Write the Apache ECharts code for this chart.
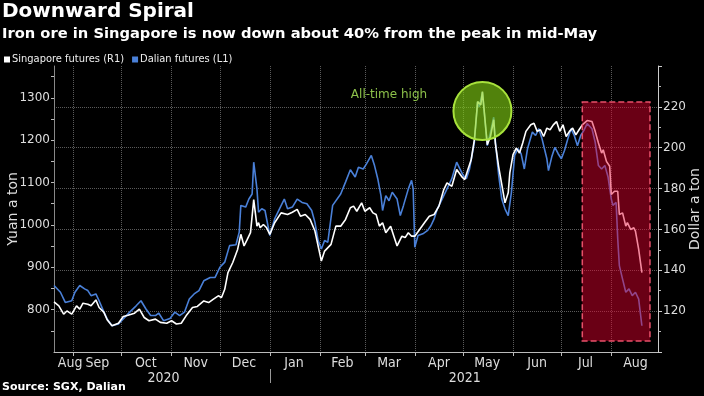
<!DOCTYPE html>
<html>
<head>
<meta charset="utf-8">
<script src="https://cdn.jsdelivr.net/npm/echarts@6/dist/echarts.min.js"></script>
<style>
  html, body { margin: 0; padding: 0; background: #000; }
  #chart { width: 704px; height: 396px; }
</style>
</head>
<body>
<div id="chart"></div>
<script>
// Dalian futures, yuan a ton (left axis)
const dalianDates = [
  '2020-08-20','2020-08-24','2020-08-27','2020-08-31','2020-09-02','2020-09-05','2020-09-08','2020-09-10',
  '2020-09-12','2020-09-15','2020-09-17','2020-09-20','2020-09-22','2020-09-25','2020-09-29','2020-10-02',
  '2020-10-06','2020-10-10','2020-10-13','2020-10-16','2020-10-19','2020-10-22','2020-10-24','2020-10-27',
  '2020-10-31','2020-11-03','2020-11-06','2020-11-09','2020-11-12','2020-11-15','2020-11-18','2020-11-21',
  '2020-11-25','2020-11-28','2020-12-01','2020-12-04','2020-12-07','2020-12-11','2020-12-13','2020-12-14',
  '2020-12-17','2020-12-19','2020-12-21','2020-12-22','2020-12-24','2020-12-25','2020-12-27','2020-12-29',
  '2021-01-01','2021-01-04','2021-01-07','2021-01-10','2021-01-12','2021-01-15','2021-01-18','2021-01-21',
  '2021-01-24','2021-01-27','2021-01-29','2021-01-31','2021-02-02','2021-02-04','2021-02-06','2021-02-09',
  '2021-02-14','2021-02-17','2021-02-20','2021-02-23','2021-02-25','2021-02-28','2021-03-02','2021-03-05',
  '2021-03-07','2021-03-09','2021-03-11','2021-03-12','2021-03-14','2021-03-16','2021-03-18','2021-03-21',
  '2021-03-23','2021-03-25','2021-03-28','2021-03-30','2021-03-31','2021-04-01','2021-04-03','2021-04-06',
  '2021-04-09','2021-04-11','2021-04-13','2021-04-15','2021-04-17','2021-04-21','2021-04-24','2021-04-27',
  '2021-04-29','2021-05-01','2021-05-03','2021-05-05','2021-05-08','2021-05-10','2021-05-11','2021-05-13',
  '2021-05-16','2021-05-18','2021-05-20','2021-05-21','2021-05-23','2021-05-25','2021-05-27','2021-05-29',
  '2021-05-31','2021-06-02','2021-06-04','2021-06-06','2021-06-08','2021-06-10','2021-06-13','2021-06-15',
  '2021-06-17','2021-06-19','2021-06-22','2021-06-23','2021-06-25','2021-06-27','2021-06-29','2021-07-01',
  '2021-07-03','2021-07-05','2021-07-07','2021-07-09','2021-07-11','2021-07-13','2021-07-15','2021-07-17',
  '2021-07-20','2021-07-22','2021-07-24','2021-07-26','2021-07-28','2021-07-30','2021-08-01','2021-08-02',
  '2021-08-04','2021-08-05','2021-08-06','2021-08-08','2021-08-10','2021-08-12','2021-08-14','2021-08-16',
  '2021-08-18','2021-08-20'
];
const dalianYuan = [
  857, 841, 817, 821, 841, 857, 849, 845,
  833, 837, 821, 794, 778, 762, 766, 778,
  794, 809, 821, 802, 786, 786, 792, 774,
  779, 794, 786, 794, 825, 837, 845, 868,
  876, 876, 900, 912, 951, 953, 983, 1046,
  1042, 1061, 1073, 1148, 1085, 1030, 1038, 1034,
  975, 1014, 1038, 1061, 1038, 1042, 1061, 1053,
  1050, 1034, 1006, 963, 943, 963, 959, 1046,
  1073, 1101, 1130, 1113, 1136, 1132, 1144, 1164,
  1140, 1109, 1069, 1034, 1069, 1057, 1077, 1061,
  1022, 1046, 1085, 1105, 1085, 947, 975, 979,
  987, 998, 1014, 1038, 1053, 1085, 1109, 1148,
  1132, 1117, 1109, 1132, 1195, 1290, 1278, 1313,
  1187, 1219, 1254, 1199, 1120, 1061, 1038, 1022,
  1077, 1164, 1180, 1168, 1132, 1180, 1219, 1211,
  1227, 1203, 1156, 1128, 1160, 1183, 1168, 1156,
  1176, 1203, 1227, 1211, 1187, 1211, 1223, 1239,
  1227, 1195, 1140, 1132, 1140, 1113, 1061, 1046,
  1053, 967, 904, 872, 841, 849, 833, 841,
  825, 762
];

// Singapore futures, dollar a ton (right axis)
const sgxDates = [
  '2020-08-20','2020-08-23','2020-08-26','2020-08-28','2020-08-31','2020-09-03','2020-09-05','2020-09-07',
  '2020-09-10','2020-09-12','2020-09-15','2020-09-17','2020-09-20','2020-09-22','2020-09-25','2020-09-29',
  '2020-10-02','2020-10-05','2020-10-09','2020-10-12','2020-10-15','2020-10-18','2020-10-22','2020-10-25',
  '2020-10-29','2020-11-01','2020-11-04','2020-11-07','2020-11-10','2020-11-14','2020-11-17','2020-11-21',
  '2020-11-24','2020-11-27','2020-11-30','2020-12-02','2020-12-04','2020-12-06','2020-12-09','2020-12-12',
  '2020-12-14','2020-12-16','2020-12-18','2020-12-20','2020-12-22','2020-12-24','2020-12-25','2020-12-26',
  '2020-12-28','2020-12-30','2021-01-01','2021-01-04','2021-01-08','2021-01-12','2021-01-15','2021-01-18',
  '2021-01-20','2021-01-23','2021-01-26','2021-01-29','2021-01-31','2021-02-02','2021-02-04','2021-02-08',
  '2021-02-11','2021-02-14','2021-02-17','2021-02-20','2021-02-22','2021-02-24','2021-02-27','2021-03-01',
  '2021-03-04','2021-03-06','2021-03-08','2021-03-10','2021-03-12','2021-03-14','2021-03-17','2021-03-19',
  '2021-03-21','2021-03-24','2021-03-26','2021-03-28','2021-03-30','2021-04-01','2021-04-04','2021-04-07',
  '2021-04-10','2021-04-13','2021-04-16','2021-04-19','2021-04-21','2021-04-24','2021-04-27','2021-04-30',
  '2021-05-02','2021-05-04','2021-05-06','2021-05-08','2021-05-10','2021-05-12','2021-05-13','2021-05-16',
  '2021-05-18','2021-05-20','2021-05-21','2021-05-23','2021-05-25','2021-05-27','2021-05-29','2021-05-30',
  '2021-06-01','2021-06-03','2021-06-05','2021-06-07','2021-06-09','2021-06-12','2021-06-14','2021-06-16',
  '2021-06-18','2021-06-20','2021-06-22','2021-06-24','2021-06-26','2021-06-28','2021-06-30','2021-07-02',
  '2021-07-04','2021-07-06','2021-07-08','2021-07-10','2021-07-12','2021-07-14','2021-07-17','2021-07-20',
  '2021-07-22','2021-07-24','2021-07-26','2021-07-27','2021-07-29','2021-07-31','2021-08-01','2021-08-03',
  '2021-08-05','2021-08-06','2021-08-08','2021-08-10','2021-08-11','2021-08-13','2021-08-15','2021-08-16',
  '2021-08-18','2021-08-20'
];
const sgxUsd = [
  124.5, 122.6, 118.5, 120.1, 118.5, 122.6, 121.0, 123.9,
  123.4, 122.6, 125.5, 121.8, 119.4, 115.8, 112.8, 114.1,
  117.4, 118.0, 119.0, 121.0, 116.9, 115.3, 116.1, 114.5,
  114.1, 115.3, 113.7, 114.1, 117.7, 121.8, 122.3, 125.0,
  124.2, 125.9, 127.5, 126.7, 130.7, 138.9, 143.8, 150.2,
  157.6, 151.9, 155.1, 158.4, 174.6, 161.6, 163.3, 160.8,
  162.4, 160.8, 157.6, 163.3, 168.1, 167.3, 168.4, 169.8,
  166.5, 167.3, 164.9, 159.2, 151.9, 144.5, 149.4, 152.7,
  161.6, 161.6, 164.9, 170.6, 171.4, 168.9, 173.0, 168.9,
  170.6, 168.1, 167.3, 161.6, 163.3, 158.4, 161.6, 156.7,
  151.9, 156.7, 156.0, 158.4, 156.7, 156.7, 160.0, 163.3,
  166.5, 167.3, 171.4, 179.5, 182.8, 181.1, 189.3, 186.0,
  184.4, 189.3, 194.1, 203.9, 222.6, 221.0, 227.5, 201.5,
  205.5, 213.7, 202.3, 191.0, 182.0, 173.0, 177.9, 187.7,
  196.6, 199.8, 197.4, 202.3, 208.0, 211.2, 212.0, 208.0,
  208.8, 205.5, 209.6, 208.8, 211.2, 212.8, 208.0, 211.2,
  205.5, 208.0, 209.6, 206.3, 208.8, 211.2, 213.3, 212.8,
  208.0, 202.3, 197.4, 199.0, 193.3, 190.9, 177.1, 178.7,
  178.7, 167.3, 168.1, 161.6, 163.3, 160.0, 160.8, 159.2,
  150.2, 138.9
];

// axis ticks and labels
const monthStarts = ['2020-09-01','2020-10-01','2020-11-01','2020-12-01','2021-01-01','2021-02-01',
  '2021-03-01','2021-04-01','2021-05-01','2021-06-01','2021-07-01','2021-08-01'];
const monthLabelAt = ['2020-08-30','2020-09-16','2020-10-16','2020-11-16','2020-12-16','2021-01-16',
  '2021-02-15','2021-03-16','2021-04-16','2021-05-16','2021-06-16','2021-07-16','2021-08-16'];
const yearLabelAt = ['2020-10-27','2021-05-02'];
const yearBreak = ['2021-01-01'];
const yuanTicks = [750, 800, 850, 900, 950, 1000, 1050, 1100, 1150, 1200, 1250, 1300, 1350];
const yuanLabels = [800, 900, 1000, 1100, 1200, 1300];
const MONTHS = ['Jan','Feb','Mar','Apr','May','Jun','Jul','Aug','Sep','Oct','Nov','Dec'];

// dates are kept as day timestamps on a plain value axis
function ts(s) {
  const p = s.split('-');
  return new Date(+p[0], +p[1] - 1, +p[2]).getTime();
}

const narrow = '"Liberation Sans Narrow", "DejaVu Sans Condensed", sans-serif';
const plain = '"DejaVu Sans", sans-serif';

const chart = echarts.init(document.getElementById('chart'));

const option = {
  backgroundColor: '#000',
  animation: false,
  title: [
    { text: 'Downward Spiral', left: 2, top: 2, padding: 0,
      textStyle: { color: '#fff', fontSize: 20, fontWeight: 'bold', fontFamily: plain } },
    { text: 'Iron ore in Singapore is now down about 40% from the peak in mid-May', left: 2, top: 27, padding: 0,
      textStyle: { color: '#fff', fontSize: 14.7, fontWeight: 'bold', fontFamily: plain } },
    { text: 'Source: SGX, Dalian', left: 2, top: 382, padding: 0,
      textStyle: { color: '#fff', fontSize: 11, fontWeight: 'bold', fontFamily: plain } }
  ],
  legend: {
    left: 4, top: 54, padding: 0,
    icon: 'rect', itemWidth: 6, itemHeight: 6, itemGap: 8,
    textStyle: { color: '#eee', fontSize: 11, fontFamily: narrow, padding: [0, 0, 0, -3] },
    data: ['Singapore futures (R1)', 'Dalian futures (L1)']
  },
  grid: { left: 54, right: 46, top: 66, bottom: 44, containLabel: false, outerBoundsMode: 'none' },
  xAxis: [
    {
      type: 'value',
      min: ts('2020-08-20'), max: ts('2021-08-30'),
      axisLine: { lineStyle: { color: '#bbb' } },
      axisTick: { customValues: monthStarts.map(ts), length: 4, lineStyle: { color: '#bbb' } },
      axisLabel: {
        customValues: monthLabelAt.map(ts), margin: 4,
        color: '#ddd', fontSize: 14, fontFamily: narrow,
        formatter: v => MONTHS[new Date(v).getMonth()]
      },
      splitLine: { show: true, lineStyle: { color: '#5a5a5a', type: 'dotted' } }
    },
    {
      type: 'value',
      position: 'bottom', offset: 17,
      min: ts('2020-08-20'), max: ts('2021-08-30'),
      axisLine: { show: false },
      axisTick: { customValues: yearBreak.map(ts), length: 14, lineStyle: { color: '#999' } },
      axisLabel: {
        customValues: yearLabelAt.map(ts), margin: 2,
        color: '#ddd', fontSize: 14, fontFamily: narrow,
        formatter: v => String(new Date(v).getFullYear())
      },
      splitLine: { show: false }
    }
  ],
  yAxis: [
    {
      type: 'value', position: 'left',
      min: 700, max: 1375,
      name: 'Yuan a ton', nameLocation: 'middle', nameGap: 34, nameMoveOverlap: false,
      nameTextStyle: { color: '#ddd', fontSize: 14, fontFamily: plain },
      axisLine: { show: true, lineStyle: { color: '#888' } },
      axisTick: { show: true, customValues: yuanTicks, length: 3, lineStyle: { color: '#bbb' } },
      axisLabel: { customValues: yuanLabels, margin: 4, color: '#ddd', fontSize: 12, fontFamily: plain,
        formatter: v => String(v) },
      splitLine: { show: false }
    },
    {
      type: 'value', position: 'right',
      min: 100, max: 240, interval: 20,
      name: 'Dollar a ton', nameLocation: 'middle', nameGap: 30, nameMoveOverlap: false,
      nameTextStyle: { color: '#ddd', fontSize: 14, fontFamily: plain },
      axisLine: { show: true, lineStyle: { color: '#ccc' } },
      axisTick: { show: true, length: 4, lineStyle: { color: '#ccc' } },
      minorTick: { show: true, splitNumber: 2, length: 3, lineStyle: { color: '#bbb' } },
      axisLabel: { showMinLabel: false, showMaxLabel: false, margin: 5, color: '#ddd', fontSize: 12, fontFamily: plain },
      splitLine: { show: true, showMinLine: false, showMaxLine: false, lineStyle: { color: '#5a5a5a', type: 'dotted' } }
    }
  ],
  series: [
    {
      name: 'Dalian futures (L1)',
      type: 'line',
      xAxisIndex: 0, yAxisIndex: 0,
      showSymbol: false,
      color: '#4a80d8',
      lineStyle: { color: '#4a80d8', width: 1.6 },
      data: dalianDates.map((d, i) => [ts(d), dalianYuan[i]]),
      markPoint: {
        silent: true,
        data: [
          {
            coord: [ts('2021-05-13'), 1269], symbol: 'circle', symbolSize: 58,
            itemStyle: { color: 'rgba(130,210,20,0.62)', borderColor: '#a8e23c', borderWidth: 2 },
            label: { show: false }
          },
          {
            coord: [ts('2021-03-16'), 1307], symbol: 'circle', symbolSize: 1,
            itemStyle: { color: 'rgba(0,0,0,0)' },
            label: { show: true, position: 'inside', formatter: 'All-time high',
              color: '#8cc04a', fontSize: 12, fontFamily: plain }
          }
        ]
      }
    },
    {
      name: 'Singapore futures (R1)',
      type: 'line',
      xAxisIndex: 0, yAxisIndex: 1,
      showSymbol: false,
      color: '#ffffff',
      lineStyle: { color: '#ffffff', width: 1.6 },
      data: sgxDates.map((d, i) => [ts(d), sgxUsd[i]]),
      markArea: {
        silent: true,
        z: 5,
        itemStyle: {
          color: 'rgba(232,0,46,0.46)',
          borderColor: '#e8506a', borderWidth: 1.5, borderType: 'dashed'
        },
        data: [[{ coord: [ts('2021-07-14'), 222.4] }, { coord: [ts('2021-08-25'), 105.4] }]]
      }
    }
  ]
};

chart.setOption(option);
</script>
</body>
</html>
